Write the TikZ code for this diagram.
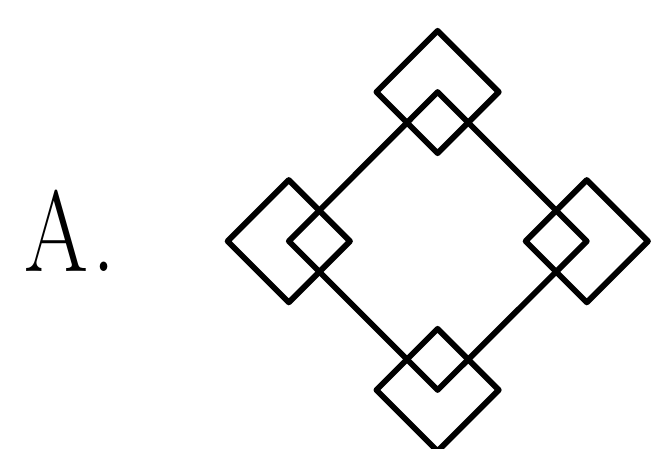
\documentclass[tikz,border=0pt]{standalone}
\usepackage{tikz}
\usetikzlibrary{calc}
\tikzset{losange/.style={line width=4.1pt, line join=round, black}}

\begin{document}
\begin{tikzpicture}
        \useasboundingbox (0,0) rectangle (16.4,11.2);
        % etiquette
        \node[anchor=base west, inner sep=0pt, font=\fontsize{82pt}{90pt}\selectfont] (lbl) at (0.6,4.4) {\scalebox{0.8}[1]{A\kern0.05em.}};
        % sommets du grand losange
        \coordinate (t) at (10.94,8.9);
        \coordinate (r) at (14.67,5.17);
        \coordinate (b) at (10.94,1.45);
        \coordinate (l) at (7.22,5.17);
        \draw[losange] (t) -- (r) -- (b) -- (l) -- cycle;
        % petits losanges
        \foreach \v in {t,r,b,l}
          \draw[losange] (\v) ++(0,1.53) -- ++(1.53,-1.53) -- ++(-1.53,-1.53) -- ++(-1.53,1.53) -- cycle;
      \end{tikzpicture}
\end{document}
